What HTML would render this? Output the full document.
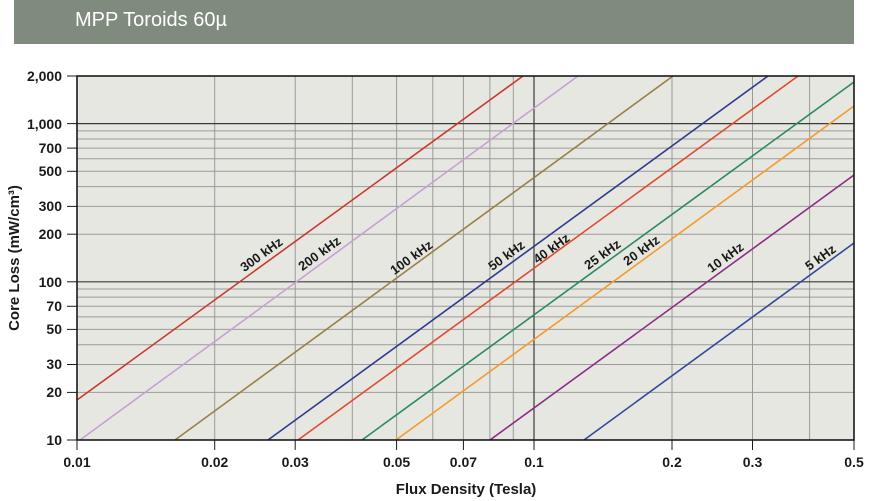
<!DOCTYPE html>
<html><head><meta charset="utf-8"><style>
html,body{margin:0;padding:0;background:#fff;}
body{width:870px;height:501px;overflow:hidden;position:relative;font-family:"Liberation Sans",sans-serif;}
.hdr{position:absolute;left:14px;top:0;width:840px;height:44px;background:#7f8b7d;}
.hdr span{position:absolute;left:61px;top:9px;color:#fff;font-size:20px;}
svg{position:absolute;left:0;top:0;}
text{font-family:"Liberation Sans Narrow","Liberation Sans",sans-serif;font-weight:bold;fill:#1a1a1a;}
</style></head><body>
<div class="hdr"><span>MPP Toroids 60µ</span></div>
<svg width="870" height="501" viewBox="0 0 870 501">
<rect x="77" y="76" width="777" height="364" fill="#e7e7e2"/>
<g stroke="#9a9a98" stroke-width="1">
<!-- vertical grid -->
<line x1="214.7" y1="76" x2="214.7" y2="440"/>
<line x1="295.2" y1="76" x2="295.2" y2="440"/>
<line x1="352.3" y1="76" x2="352.3" y2="440"/>
<line x1="396.6" y1="76" x2="396.6" y2="440"/>
<line x1="432.8" y1="76" x2="432.8" y2="440"/>
<line x1="463.4" y1="76" x2="463.4" y2="440"/>
<line x1="489.9" y1="76" x2="489.9" y2="440"/>
<line x1="513.3" y1="76" x2="513.3" y2="440"/>
<line x1="672" y1="76" x2="672" y2="440"/>
<line x1="752.5" y1="76" x2="752.5" y2="440"/>
<line x1="809.6" y1="76" x2="809.6" y2="440"/>
<!-- horizontal grid -->
<line x1="77" y1="392.4" x2="854" y2="392.4"/>
<line x1="77" y1="364.5" x2="854" y2="364.5"/>
<line x1="77" y1="344.7" x2="854" y2="344.7"/>
<line x1="77" y1="329.4" x2="854" y2="329.4"/>
<line x1="77" y1="316.9" x2="854" y2="316.9"/>
<line x1="77" y1="306.3" x2="854" y2="306.3"/>
<line x1="77" y1="297.1" x2="854" y2="297.1"/>
<line x1="77" y1="289.0" x2="854" y2="289.0"/>
<line x1="77" y1="234.2" x2="854" y2="234.2"/>
<line x1="77" y1="206.4" x2="854" y2="206.4"/>
<line x1="77" y1="186.6" x2="854" y2="186.6"/>
<line x1="77" y1="171.3" x2="854" y2="171.3"/>
<line x1="77" y1="158.7" x2="854" y2="158.7"/>
<line x1="77" y1="148.1" x2="854" y2="148.1"/>
<line x1="77" y1="139.0" x2="854" y2="139.0"/>
<line x1="77" y1="130.9" x2="854" y2="130.9"/>
</g>
<g stroke="#3a3a3a" stroke-width="1.2">
<line x1="534" y1="76" x2="534" y2="440"/>
<line x1="77" y1="281.8" x2="854" y2="281.8"/>
<line x1="77" y1="123.6" x2="854" y2="123.6"/>
</g>
<!-- series -->
<g stroke-width="1.6" fill="none">
<line x1="77" y1="400" x2="523" y2="76" stroke="#c9382c"/>
<line x1="80" y1="440" x2="578" y2="76" stroke="#c7a0d6"/>
<line x1="175" y1="440" x2="673" y2="76" stroke="#9a7f47"/>
<line x1="268" y1="440" x2="768" y2="76" stroke="#2f3b8e"/>
<line x1="298" y1="440" x2="798" y2="76" stroke="#e24a2e"/>
<line x1="362" y1="440" x2="854" y2="82" stroke="#2b8b5c"/>
<line x1="396" y1="440" x2="854" y2="106" stroke="#f49b2a"/>
<line x1="490" y1="440" x2="854" y2="175" stroke="#8b2c8a"/>
<line x1="584" y1="440" x2="854" y2="243" stroke="#30499a"/>
</g>
<!-- frame -->
<rect x="77" y="76" width="777" height="364" fill="none" stroke="#1a1a1a" stroke-width="1.6"/>
<!-- ticks -->
<g stroke="#1a1a1a" stroke-width="1">
<line x1="67" y1="76" x2="77" y2="76"/><line x1="67" y1="123.6" x2="77" y2="123.6"/>
<line x1="67" y1="148.1" x2="77" y2="148.1"/><line x1="67" y1="171.3" x2="77" y2="171.3"/>
<line x1="67" y1="206.4" x2="77" y2="206.4"/><line x1="67" y1="234.2" x2="77" y2="234.2"/>
<line x1="67" y1="281.8" x2="77" y2="281.8"/><line x1="67" y1="306.3" x2="77" y2="306.3"/>
<line x1="67" y1="329.4" x2="77" y2="329.4"/><line x1="67" y1="364.5" x2="77" y2="364.5"/>
<line x1="67" y1="392.4" x2="77" y2="392.4"/><line x1="67" y1="440" x2="77" y2="440"/>
<line x1="77" y1="440" x2="77" y2="450"/><line x1="214.7" y1="440" x2="214.7" y2="450"/>
<line x1="295.2" y1="440" x2="295.2" y2="450"/><line x1="396.6" y1="440" x2="396.6" y2="450"/>
<line x1="463.4" y1="440" x2="463.4" y2="450"/><line x1="534" y1="440" x2="534" y2="450"/>
<line x1="672" y1="440" x2="672" y2="450"/><line x1="752.5" y1="440" x2="752.5" y2="450"/>
<line x1="854" y1="440" x2="854" y2="450"/>
</g>
<g font-size="14" text-anchor="end">
<text x="62" y="81">2,000</text><text x="62" y="129">1,000</text>
<text x="62" y="153">700</text><text x="62" y="176">500</text>
<text x="62" y="211">300</text><text x="62" y="239">200</text>
<text x="62" y="287">100</text><text x="62" y="311">70</text>
<text x="62" y="334">50</text><text x="62" y="369">30</text>
<text x="62" y="397">20</text><text x="62" y="445">10</text>
</g>
<g font-size="14" text-anchor="middle">
<text x="77" y="467">0.01</text><text x="214.7" y="467">0.02</text>
<text x="295.2" y="467">0.03</text><text x="396.6" y="467">0.05</text>
<text x="463.4" y="467">0.07</text><text x="534" y="467">0.1</text>
<text x="672" y="467">0.2</text><text x="752.5" y="467">0.3</text>
<text x="854" y="467">0.5</text>
</g>
<text x="466" y="494" font-size="15" text-anchor="middle">Flux Density (Tesla)</text>
<text transform="translate(19,258) rotate(-90)" font-size="15" text-anchor="middle">Core Loss (mW/cm³)</text>
<g font-size="13" text-anchor="middle">
<text transform="translate(264,258) rotate(-36)">300 kHz</text>
<text transform="translate(322,257) rotate(-36)">200 kHz</text>
<text transform="translate(414,261) rotate(-36)">100 kHz</text>
<text transform="translate(509,259) rotate(-36)">50 kHz</text>
<text transform="translate(554,252) rotate(-36)">40 kHz</text>
<text transform="translate(605,258) rotate(-36)">25 kHz</text>
<text transform="translate(644,254) rotate(-36)">20 kHz</text>
<text transform="translate(728,261) rotate(-36)">10 kHz</text>
<text transform="translate(823,261) rotate(-36)">5 kHz</text>
</g>
</svg>
</body></html>
